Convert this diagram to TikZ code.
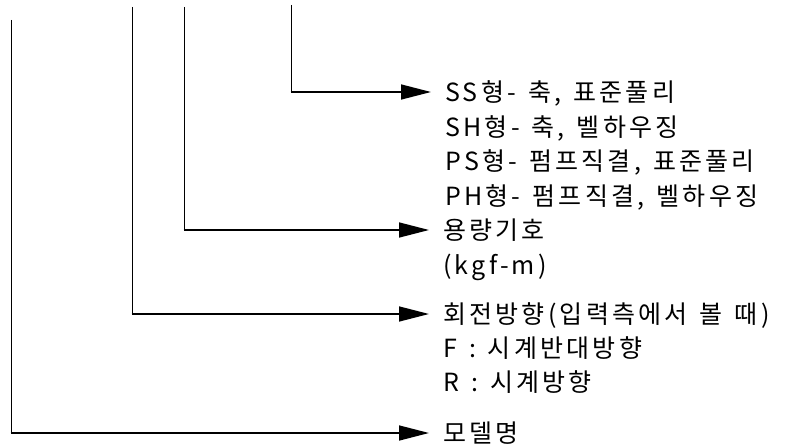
\documentclass[tikz,border=0pt]{standalone}
\usepackage{fontspec}
\setmainfont{Noto Sans CJK KR}[LetterSpace=13]
\usetikzlibrary{arrows.meta}
\tikzset{
  lbl/.style={anchor=west, inner xsep=14pt, inner ysep=0pt,
    font=\fontsize{25pt}{30pt}\selectfont,
    execute at begin node={\spaceskip=12pt plus 0pt\relax},
    text height=22pt, text depth=3pt},
  sub/.style={lbl, inner xsep=0pt},
  vline/.style={line width=0.9pt, black},
  hline/.style={line width=1.5pt, black, -{Triangle[length=30pt,width=15pt]}},
}
\begin{document}
\begin{tikzpicture}[x=1pt,y=-1pt]
\useasboundingbox (0,0) rectangle (792,444);
% corners and tops
\coordinate (t1) at (291,5);   \coordinate (c1) at (291,92);
\coordinate (t2) at (184,7);   \coordinate (c2) at (184,230);
\coordinate (t3) at (132,7);   \coordinate (c3) at (132,314);
\coordinate (t4) at (11,20);   \coordinate (c4) at (11,433);
% labels
\node[lbl] (ss) at (431,92) {SS형- 축, 표준풀리};
\node[sub] (sh) at (445,126.5) {SH형- 축, 벨하우징};
\node[sub] (ps) at (445,161) {PS형- 펌프직결, 표준풀리};
\node[sub] (ph) at (445,195.5) {PH형- 펌프직결, 벨하우징};
\node[lbl] (cap) at (429,230) {용량기호};
\node[sub] (kgf) at (443,265) {(kgf-m)};
\node[lbl] (rot) at (429,314) {회전방향(입력측에서 볼 때)};
\node[sub] (f) at (443,348) {F : 시계반대방향};
\node[sub] (r) at (443,382) {R : 시계방향};
\node[lbl] (mod) at (429,433) {모델명};
% connectors
\draw[vline] (t1) -- (c1);
\draw[vline] (t2) -- (c2);
\draw[vline] (t3) -- (c3);
\draw[vline] (t4) -- (c4);
\draw[hline] ([xshift=-0.45pt]c1) -- (ss.west);
\draw[hline] ([xshift=-0.45pt]c2) -- (cap.west);
\draw[hline] ([xshift=-0.45pt]c3) -- (rot.west);
\draw[hline] ([xshift=-0.45pt]c4) -- (mod.west);
\end{tikzpicture}
\end{document}
